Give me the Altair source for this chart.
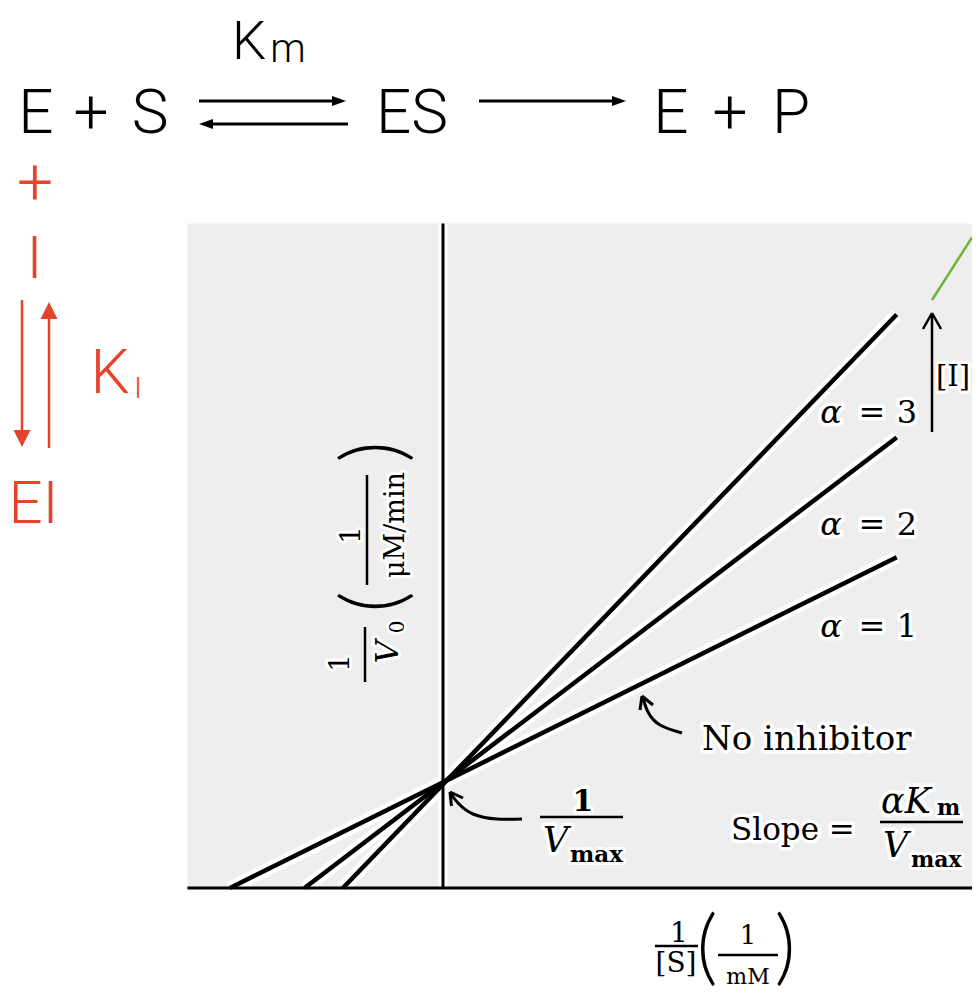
import altair as alt
import pandas as pd

# ---------------- data (Lineweaver-Burk, competitive inhibition) ----------------
alphas = [1, 2, 3]
x_intercepts = [-1.0, -0.65, -0.47]      # -1/(alpha*Km), in units of 1/Km
x_end = [2.13, 2.13, 2.13]
y_end = [3.12, 4.25, 5.41]               # 1/V0 at the right end, units of 1/Vmax
panel_x_min = -1.20
panel_y_max = 6.27

# ---------------- layout ----------------
W, H = 964, 983
PX_X0, PX_PER_X = 443, 213   # page x of the y axis, px per x unit
PX_Y0, PX_PER_Y = 888, 106   # page y of the x axis, px per y unit


def ux(px):
    return (px - PX_X0) / PX_PER_X


def uy(py):
    return (PX_Y0 - py) / PX_PER_Y


xs = alt.Scale(domain=[ux(8), ux(8 + W)], nice=False, zero=False)
ys = alt.Scale(domain=[uy(8 + H), uy(8)], nice=False, zero=False)


def X(f="x"):
    return alt.X(f"{f}:Q", scale=xs, axis=None)


def Y(f="y"):
    return alt.Y(f"{f}:Q", scale=ys, axis=None)


SERIF = "DejaVu Serif"
PAREN = "Lato"
SANS = "Roboto, Liberation Sans, sans-serif"
RED = "#e5432a"
GRAY = "#eeeeee"


def segs(rows, data_units=False, **kw):
    if not data_units:
        rows = [(ux(a), uy(b), ux(c), uy(d)) for a, b, c, d in rows]
    df = pd.DataFrame(rows, columns=["x", "y", "x2", "y2"])
    return alt.Chart(df).mark_rule(**kw).encode(x=X(), y=Y(), x2="x2:Q", y2="y2:Q")


def texts(rows, halo=0, color="black", **kw):
    kw.setdefault("baseline", "alphabetic")
    df = pd.DataFrame([{"x": ux(a), "y": uy(b), "t": t} for a, b, t in rows])
    base = alt.Chart(df).encode(x=X(), y=Y(), text="t:N")
    out = []
    if halo:
        out.append(base.mark_text(fill="white", stroke="white", strokeWidth=halo,
                                  strokeJoin="round", **kw))
    out.append(base.mark_text(fill=color, **kw))
    return out


def curve(points, **kw):
    df = pd.DataFrame([{"x": ux(a), "y": uy(b), "o": i} for i, (a, b) in enumerate(points)])
    return alt.Chart(df).mark_line(interpolate="natural", **kw).encode(x=X(), y=Y(), order="o:O")


def heads(rows, shape, size, color):
    df = pd.DataFrame([{"x": ux(a), "y": uy(b)} for a, b in rows])
    return alt.Chart(df).mark_point(shape=shape, size=size, filled=True, fill=color,
                                    stroke=None, opacity=1).encode(x=X(), y=Y())


layers = []

# gray panel
panel_df = pd.DataFrame({"x": [panel_x_min], "x2": [ux(8 + W)], "y": [0.0], "y2": [panel_y_max]})
layers.append(alt.Chart(panel_df).mark_rect(color=GRAY).encode(x=X(), x2="x2:Q", y=Y(), y2="y2:Q"))

# lines
rows = []
for a, x0, x1, y1 in zip(alphas, x_intercepts, x_end, y_end):
    rows.append({"alpha": a, "x": x0, "y": 0.0, "o": 0})
    rows.append({"alpha": a, "x": x1, "y": y1, "o": 1})
lines_df = pd.DataFrame(rows)
layers.append(alt.Chart(lines_df).mark_line(color="white", strokeWidth=13, strokeCap="butt")
              .encode(x=X(), y=Y(), detail="alpha:N", order="o:O"))

# axes
layers.append(segs([(0, 0, 0, panel_y_max)], data_units=True, color="white", strokeWidth=9))
layers.append(segs([(0, 0, 0, panel_y_max), (panel_x_min, 0, ux(8 + W), 0)], data_units=True,
                   color="black", strokeWidth=3))

layers.append(alt.Chart(lines_df).mark_line(color="black", strokeWidth=4.5, strokeCap="butt")
              .encode(x=X(), y=Y(), detail="alpha:N", order="o:O"))

# [I] arrow and green pointer
layers.append(segs([(932, 432, 932, 314), (932, 313, 923, 329), (932, 313, 941, 329)],
                   color="black", strokeWidth=2.5))
layers.append(segs([(932, 300, 972, 237.5)], color="#6db33f", strokeWidth=2.5))

# curved arrows
layers.append(curve([(643, 698), (648, 712), (660, 725), (682, 733)], color="black", strokeWidth=3))
layers.append(segs([(642, 696, 640, 710), (642, 696, 653, 705)], color="black", strokeWidth=3))
layers.append(curve([(451, 794), (458, 803), (473, 814), (497, 819), (522, 819)],
                    color="black", strokeWidth=3))
layers.append(segs([(450, 792, 451.5, 806), (450, 792, 463, 798)], color="black", strokeWidth=3))

# alpha labels
for yb, d in [(423, "3"), (535, "2"), (637, "1")]:
    layers += texts([(831, yb, "α")], halo=7, font=SERIF, fontSize=32, fontStyle="italic",
                    align="center")
    layers += texts([(872, yb, "="), (907, yb, d)], halo=7, font=SERIF, fontSize=32,
                    align="center")
layers += texts([(953, 386, "[I]")], halo=6, font=SERIF, fontSize=29, align="center")

# No inhibitor / Slope
layers += texts([(702, 750, "No inhibitor")], halo=7, font=SERIF, fontSize=34, align="left")
layers += texts([(731, 840, "Slope =")], halo=7, font=SERIF, fontSize=31, align="left")
layers += texts([(881, 813, "αK")], halo=7, font=SERIF, fontSize=35, fontStyle="italic", align="left")
layers += texts([(937, 815, "m")], halo=6, font=SERIF, fontSize=22, fontWeight="bold", align="left")
layers.append(segs([(880, 822, 963, 822)], color="black", strokeWidth=2.5))
layers += texts([(883, 857, "V")], halo=7, font=SERIF, fontSize=35, fontStyle="italic", align="left")
layers += texts([(911, 867, "max")], halo=6, font=SERIF, fontSize=22, fontWeight="bold", align="left")

# 1/Vmax label
layers += texts([(583, 811, "1")], halo=7, font=SERIF, fontSize=30, fontWeight="bold", align="center")
layers.append(segs([(540, 817, 623, 817)], color="black", strokeWidth=2.5))
layers += texts([(543, 852, "V")], halo=7, font=SERIF, fontSize=35, fontStyle="italic", align="left")
layers += texts([(570, 862, "max")], halo=6, font=SERIF, fontSize=23, fontWeight="bold", align="left")

# y axis title (rotated)
rot = dict(angle=270, align="center", baseline="middle")
layers += texts([(341, 663, "1"), (352, 535, "1")], halo=6, font=SERIF, fontSize=28, **rot)
layers += texts([(388, 652, "V")], halo=6, font=SERIF, fontSize=32, fontStyle="italic", **rot)
layers += texts([(398, 627, "0")], halo=5, font=SERIF, fontSize=20, **rot)
layers += texts([(396, 525, "μM/min")], halo=6, font=SERIF, fontSize=27, **rot)
layers += texts([(377, 602, "("), (377, 452, ")")], font=PAREN, fontSize=84, fontWeight=300, **rot)
layers.append(segs([(365, 627, 365, 682), (367, 475, 367, 585)], color="black", strokeWidth=2.5))

# x axis title
layers += texts([(679, 942, "1")], font=SERIF, fontSize=28, align="center")
layers.append(segs([(655, 946, 698, 946), (718, 955, 778, 955)], color="black", strokeWidth=2.5))
layers += texts([(676, 972, "[S]")], font=SERIF, fontSize=28, align="center")
layers += texts([(748, 944, "1")], font=SERIF, fontSize=26, align="center")
layers += texts([(748, 984, "mM")], font=SERIF, fontSize=22, align="center")
layers += texts([(707, 950, "("), (785, 950, ")")], font=PAREN, fontSize=82, fontWeight=300,
                align="center", baseline="middle")

# reaction scheme (black)
layers += texts([(36, 133, "E"), (91, 133, "+"), (150, 133, "S"), (412, 133, "ES"),
                 (671, 133, "E"), (730, 133, "+"), (791, 133, "P")],
                font=SANS, fontSize=62, fontWeight=300, align="center")
layers += texts([(249, 59, "K")], font=SANS, fontSize=54, fontWeight=300, align="center")
layers += texts([(288, 62, "m")], font=SANS, fontSize=40, fontWeight=300, align="center")
layers.append(segs([(199, 101, 334, 101), (212, 124, 348, 124), (479, 101, 613, 101)],
                   color="black", strokeWidth=3))
layers.append(heads([(339, 101), (619, 101)], "M-1,-0.7L1,0L-1,0.7Z", 196, "black"))
layers.append(heads([(206, 124)], "M1,-0.7L-1,0L1,0.7Z", 196, "black"))

# reaction scheme (red)
layers += texts([(35, 185, "+")], color=RED, font=SANS, fontSize=64, fontWeight=300,
                align="center", baseline="middle")
layers += texts([(34.5, 278, "I"), (33.5, 523, "EI")], color=RED, font=SANS, fontSize=60,
                fontWeight=300, align="center")
layers += texts([(110, 393, "K")], color=RED, font=SANS, fontSize=62, fontWeight=300, align="center")
layers += texts([(138, 398, "I")], color=RED, font=SANS, fontSize=30, fontWeight=300, align="center")
layers.append(segs([(22, 300, 22, 440), (49, 448, 49, 310)], color=RED, strokeWidth=2.5))
layers.append(heads([(22, 438.5)], "M-1,-1L1,-1L0,1Z", 289, RED))
layers.append(heads([(49, 310.5)], "M-1,1L1,1L0,-1Z", 289, RED))

chart = (
    alt.layer(*layers)
    .properties(width=W, height=H, padding=0, autosize="none", background="white")
    .configure_view(stroke=None)
)

chart.save("out.html", embed_options={"renderer": "svg", "actions": False})
